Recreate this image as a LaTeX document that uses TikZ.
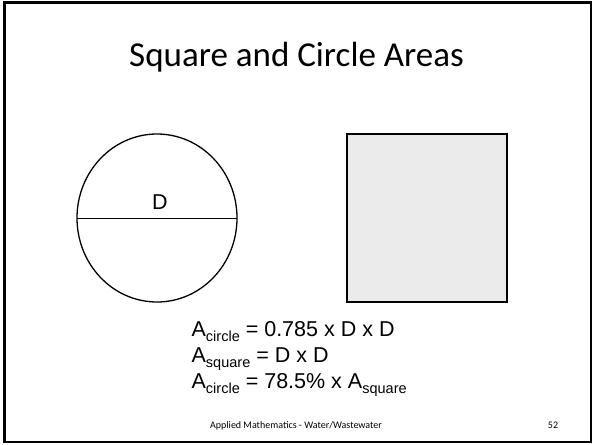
\documentclass[tikz,border=0pt]{standalone}
\usepackage{fontspec}
\setmainfont{Carlito}
\newfontfamily\arialfont{Liberation Sans}
\newcommand{\areasub}[1]{\raisebox{-5.5pt}{\fontsize{14.5}{16}\selectfont #1}}

\begin{document}
\begin{tikzpicture}[x=1pt,y=-1pt,line width=1.3pt]
  \useasboundingbox (0,0) rectangle (593,444);
  \draw[line width=2.6pt] (4.5,2.5) rectangle (591,442);
  \node[anchor=base] (title) at (296.5,66){\fontsize{35}{42}\selectfont Square and Circle Areas};
  \draw (157,218) ellipse [x radius=80,y radius=84];
  \coordinate (dleft) at (77,218.3);
  \coordinate (dright) at (237,218.3);
  \draw (dleft)--(dright);
  \node[anchor=base,inner sep=0pt] (dlabel) at (160,209){\arialfont\fontsize{21.5}{26}\selectfont D};
  \draw[fill=black!8] (347,134) rectangle (507,302);
  \node[anchor=base west,inner sep=0pt] (acircle) at (191,336){\arialfont\fontsize{21.5}{26}\selectfont A\areasub{circle} = 0.785 x D x D};
  \node[anchor=base west,inner sep=0pt] (asquare) at (191,362){\arialfont\fontsize{21.5}{26}\selectfont A\areasub{square} = D x D};
  \node[anchor=base west,inner sep=0pt] (aratio) at (191,388){\arialfont\fontsize{21.5}{26}\selectfont A\areasub{circle} = 78.5\% x A\areasub{square}};
  \node[anchor=base,inner sep=0pt] (footer) at (296,428){\fontsize{10}{12}\selectfont Applied Mathematics - Water/Wastewater};
  \node[anchor=base,inner sep=0pt] (pagenum) at (553,428){\fontsize{10}{12}\selectfont 52};
\end{tikzpicture}
\end{document}
